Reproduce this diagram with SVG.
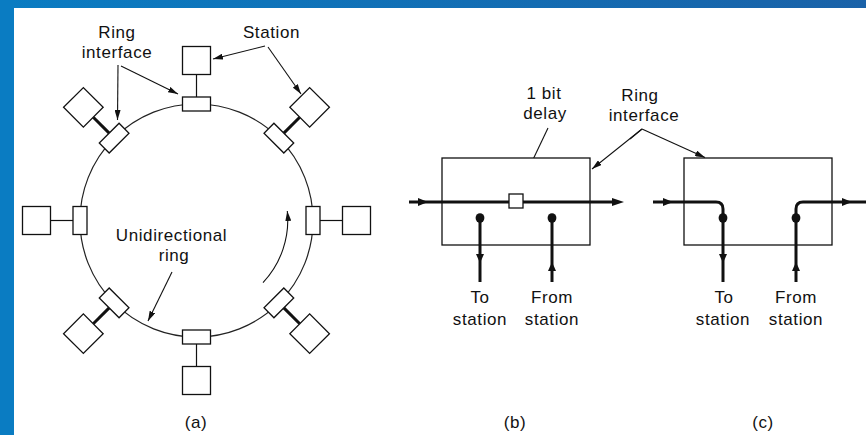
<svg xmlns="http://www.w3.org/2000/svg" width="866" height="435" viewBox="0 0 866 435">
<defs>
<linearGradient id="topbar" x1="0" y1="0" x2="1" y2="0">
<stop offset="0" stop-color="#0a7cc2"/>
<stop offset="1" stop-color="#1a62a8"/>
</linearGradient>
<marker id="ah" markerUnits="userSpaceOnUse" markerWidth="10" markerHeight="6" refX="10" refY="3" orient="auto">
<path d="M0,0 L10,3 L0,6 z" fill="#111"/>
</marker>
<style>
text{font-family:"Liberation Sans",Arial,sans-serif;font-size:17px;letter-spacing:0.6px;fill:#111;text-anchor:middle}
.box{fill:#fff;stroke:#111;stroke-width:1.3}
.thin{fill:none;stroke:#111;stroke-width:1.2}
.ring{fill:none;stroke:#222;stroke-width:1.2}
.thick{fill:none;stroke:#111;stroke-width:3}
.lbl{fill:none;stroke:#111;stroke-width:1.1;marker-end:url(#ah)}
.tri{fill:#111}
.dot{fill:#111}
</style>
</defs>
<rect x="0" y="0" width="866" height="435" fill="#fff"/>
<rect x="0" y="0" width="866" height="8" fill="url(#topbar)"/>
<rect x="0" y="0" width="14" height="435" fill="#0a7cc2"/>

<g id="connectors">
<circle class="ring" cx="196.5" cy="220.5" r="116.5"/>
<path class="lbl" d="M263,282.6 A91,91 0 0 0 287.3,211"/>
<line class="lbl" x1="118" y1="65" x2="117.5" y2="120"/>
<line class="lbl" x1="121" y1="66" x2="178" y2="94"/>
<line class="lbl" x1="265" y1="46" x2="213" y2="59"/>
<line class="lbl" x1="268" y1="47" x2="301" y2="94"/>
<line class="lbl" x1="172" y1="272" x2="148" y2="321"/>
<line class="lbl" x1="548" y1="128" x2="518" y2="191"/>
<line class="lbl" x1="630" y1="139" x2="642" y2="129" style="marker-end:none"/>
<line class="lbl" x1="642" y1="129" x2="592" y2="169"/>
<line class="lbl" x1="642" y1="129" x2="705" y2="157.5"/>
</g>

<g id="node-top">
<line class="thin" x1="196.5" y1="74.5" x2="196.5" y2="97"/>
<rect class="box" x="182.5" y="46.5" width="28" height="28"/>
<rect class="box" x="182.5" y="97" width="28" height="14"/>
</g>
<g id="node-right" transform="rotate(90 196.5 220.5)">
<line class="thin" x1="196.5" y1="74.5" x2="196.5" y2="97"/>
<rect class="box" x="182.5" y="46.5" width="28" height="28"/>
<rect class="box" x="182.5" y="97" width="28" height="14"/>
</g>
<g id="node-bottom" transform="rotate(180 196.5 220.5)">
<line class="thin" x1="196.5" y1="74.5" x2="196.5" y2="97"/>
<rect class="box" x="182.5" y="46.5" width="28" height="28"/>
<rect class="box" x="182.5" y="97" width="28" height="14"/>
</g>
<g id="node-left" transform="rotate(-90 196.5 220.5)">
<line class="thin" x1="196.5" y1="74.5" x2="196.5" y2="97"/>
<rect class="box" x="182.5" y="46.5" width="28" height="28"/>
<rect class="box" x="182.5" y="97" width="28" height="14"/>
</g>
<g id="node-upper-right" transform="rotate(45 196.5 220.5)">
<line class="thick" x1="196.5" y1="74.5" x2="196.5" y2="97"/>
<rect class="box" x="182.5" y="46.5" width="28" height="28"/>
<rect class="box" x="182.5" y="97" width="28" height="14"/>
</g>
<g id="node-lower-right" transform="rotate(135 196.5 220.5)">
<line class="thick" x1="196.5" y1="74.5" x2="196.5" y2="97"/>
<rect class="box" x="182.5" y="46.5" width="28" height="28"/>
<rect class="box" x="182.5" y="97" width="28" height="14"/>
</g>
<g id="node-lower-left" transform="rotate(-135 196.5 220.5)">
<line class="thick" x1="196.5" y1="74.5" x2="196.5" y2="97"/>
<rect class="box" x="182.5" y="46.5" width="28" height="28"/>
<rect class="box" x="182.5" y="97" width="28" height="14"/>
</g>
<g id="node-upper-left" transform="rotate(-45 196.5 220.5)">
<line class="thick" x1="196.5" y1="74.5" x2="196.5" y2="97"/>
<rect class="box" x="182.5" y="46.5" width="28" height="28"/>
<rect class="box" x="182.5" y="97" width="28" height="14"/>
</g>

<g id="labels-a">
<text x="117" y="38">Ring</text>
<text x="117" y="58">interface</text>
<text x="271.5" y="38">Station</text>
<text x="171.5" y="241">Unidirectional</text>
<text x="174" y="261">ring</text>
<text x="196" y="428">(a)</text>
</g>

<g id="interface-b">
<rect class="box" x="442" y="158" width="148" height="87"/>
<line class="thick" x1="409" y1="202" x2="614" y2="202"/>
<polygon class="tri" points="428,202 418,198 418,206"/>
<polygon class="tri" points="624,202 612,198 612,206"/>
<rect class="box" x="509" y="194" width="14" height="14"/>
<ellipse class="dot" cx="480" cy="218" rx="4.4" ry="4.8"/>
<line class="thick" x1="480" y1="218" x2="480" y2="282"/>
<polygon class="tri" points="480,263 476,254 484,254"/>
<ellipse class="dot" cx="552" cy="218" rx="4.4" ry="4.8"/>
<line class="thick" x1="552" y1="218" x2="552" y2="282"/>
<polygon class="tri" points="552,262 548,271 556,271"/>
<text x="544" y="99">1 bit</text>
<text x="545" y="119">delay</text>
<text x="480" y="303">To</text>
<text x="480" y="325">station</text>
<text x="552" y="303">From</text>
<text x="552" y="325">station</text>
<text x="515" y="428">(b)</text>
</g>

<g id="interface-c">
<rect class="box" x="684" y="158" width="148" height="87"/>
<path class="thick" d="M653,202 H716 Q723,202 723,209 V282"/>
<path class="thick" d="M796,282 V209 Q796,202 803,202 H866"/>
<polygon class="tri" points="673,202 663,198 663,206"/>
<polygon class="tri" points="852,202 842,198 842,206"/>
<ellipse class="dot" cx="723" cy="218" rx="4.4" ry="4.8"/>
<polygon class="tri" points="723,263 719,254 727,254"/>
<ellipse class="dot" cx="796" cy="218" rx="4.4" ry="4.8"/>
<polygon class="tri" points="796,262 792,271 800,271"/>
<text x="724" y="303">To</text>
<text x="723" y="325">station</text>
<text x="796" y="303">From</text>
<text x="796" y="325">station</text>
<text x="763" y="428">(c)</text>
</g>

<g id="label-ring-interface-bc">
<text x="640" y="101">Ring</text>
<text x="644" y="121">interface</text>
</g>
</svg>
